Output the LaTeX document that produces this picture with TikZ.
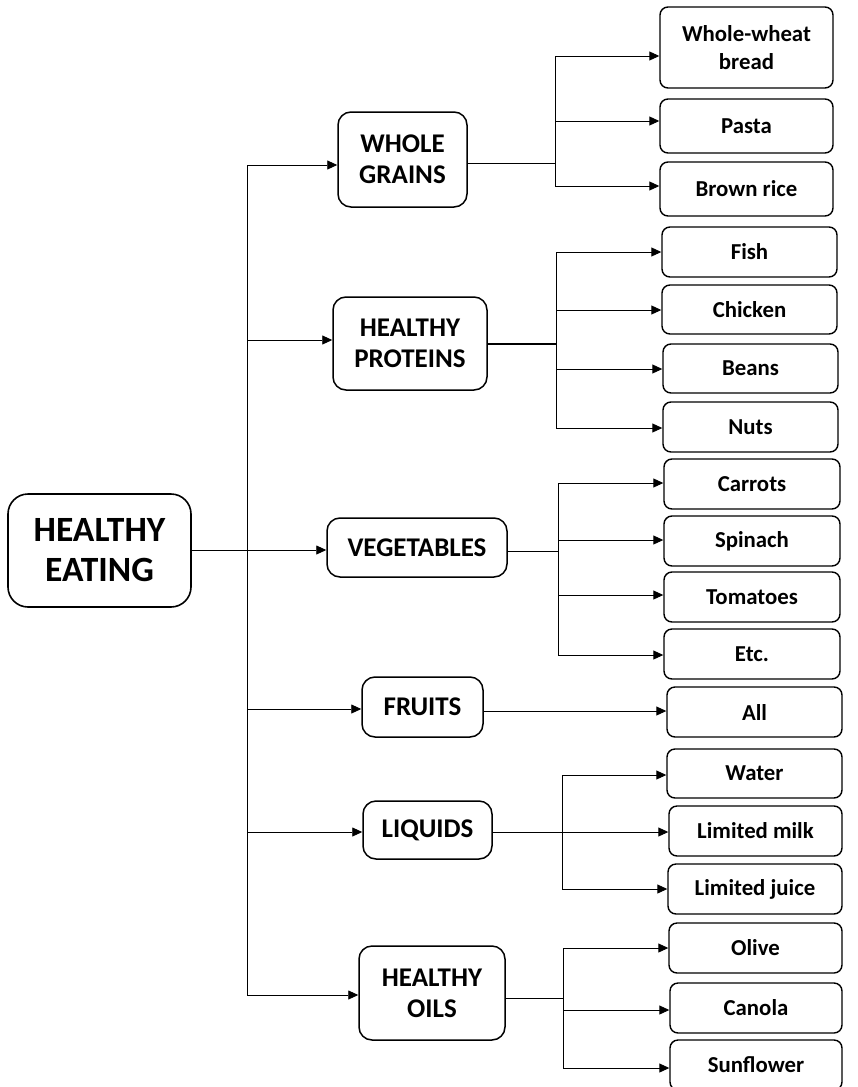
\documentclass[tikz,border=0pt]{standalone}
\usepackage{fontspec}
\setmainfont{Carlito}
\usetikzlibrary{arrows.meta}
\tikzset{
  basebox/.style={draw, rectangle, align=center, inner sep=0pt, font=\bfseries},
  rootbox/.style={basebox, line width=1.6pt, rounded corners=20pt,
    font=\bfseries\fontsize{35.5}{40}\selectfont},
  catbox/.style={basebox, line width=1.5pt, rounded corners=13pt,
    font=\bfseries\fontsize{27}{31}\selectfont},
  itembox/.style={basebox, line width=1.4pt, rounded corners=8pt,
    font=\bfseries\fontsize{22.8}{28}\selectfont},
  link/.style={line width=0.9pt},
  arr/.style={link, -{Triangle[length=10pt,width=9pt]}},
}
\begin{document}
\begin{tikzpicture}[x=1pt,y=-1pt]
\useasboundingbox (0,0) rectangle (858,1087);

% root
\node[rootbox, minimum width=183pt, minimum height=113pt] (root) at (99.5,550.5) {HEALTHY\\EATING};

% categories
\node[catbox, minimum width=129pt, minimum height=95pt] (wg)  at (402.5,159.5) {WHOLE\\GRAINS};
\node[catbox, minimum width=154pt, minimum height=93pt] (hp)  at (410,343.5) {HEALTHY\\PROTEINS};
\node[catbox, minimum width=180pt, minimum height=59pt] (veg) at (417,547.5) {VEGETABLES};
\node[catbox, minimum width=121pt, minimum height=60pt] (fru) at (422.5,707) {FRUITS};
\node[catbox, minimum width=129pt, minimum height=58pt] (liq) at (427.5,830) {LIQUIDS};
\node[catbox, minimum width=146pt, minimum height=94pt] (oil) at (432,993) {HEALTHY\\OILS};

% items
\node[itembox, minimum width=173pt, minimum height=81pt] (bread) at (746.5,47.5) {Whole-wheat\\bread};
\node[itembox, minimum width=173pt, minimum height=54pt] (pasta) at (746.5,126) {Pasta};
\node[itembox, minimum width=173pt, minimum height=54pt] (rice)  at (746.5,189) {Brown rice};

\node[itembox, minimum width=175pt, minimum height=50pt] (fish)    at (749.5,252) {Fish};
\node[itembox, minimum width=175pt, minimum height=49pt] (chicken) at (749.5,309.5) {Chicken};
\node[itembox, minimum width=175pt, minimum height=49pt] (beans)   at (750.5,368.5) {Beans};
\node[itembox, minimum width=175pt, minimum height=50pt] (nuts)    at (750.5,427) {Nuts};

\node[itembox, minimum width=176pt, minimum height=50pt] (carrots)  at (752,484) {Carrots};
\node[itembox, minimum width=176pt, minimum height=50pt] (spinach)  at (752,541) {Spinach};
\node[itembox, minimum width=176pt, minimum height=50pt] (tomatoes) at (752,597) {Tomatoes};
\node[itembox, minimum width=176pt, minimum height=50pt] (etc)      at (752,654) {Etc.};

\node[itembox, minimum width=175pt, minimum height=50pt] (all) at (754.5,712) {All};

\node[itembox, minimum width=175pt, minimum height=49pt] (water) at (754.5,773.5) {Water};
\node[itembox, minimum width=173pt, minimum height=50pt] (milk)  at (755.5,831) {Limited milk};
\node[itembox, minimum width=174pt, minimum height=50pt] (juice) at (755,889) {Limited juice};

\node[itembox, minimum width=173pt, minimum height=50pt] (olive)  at (755.5,948) {Olive};
\node[itembox, minimum width=172pt, minimum height=50pt] (canola) at (756,1008) {Canola};
\node[itembox, minimum width=172pt, minimum height=50pt] (sunfl)  at (756,1065) {Sunflower};

% trunk from the root to every category
\coordinate (t1) at (247,165);
\coordinate (t2) at (247,340);
\coordinate (t3) at (247,550);
\coordinate (t4) at (247,709);
\coordinate (t5) at (247,832);
\coordinate (t6) at (247,995);
\draw[link] (t1) -- (t6);
\draw[arr] (root.east |- t3) -- (veg.west |- t3);
\draw[arr] (t1) -- (wg.west |- t1);
\draw[arr] (t2) -- (hp.west |- t2);
\draw[arr] (t4) -- (fru.west |- t4);
\draw[arr] (t5) -- (liq.west |- t5);
\draw[arr] (t6) -- (oil.west |- t6);

% whole grains
\coordinate (wa) at (555,56);
\coordinate (wb) at (555,121);
\coordinate (wc) at (555,186);
\coordinate (wm) at (555,163);
\draw[link] (wa) -- (wc);
\draw[link] (wg.east |- wm) -- (wm);
\draw[arr] (wa) -- (bread.west |- wa);
\draw[arr] (wb) -- (pasta.west |- wb);
\draw[arr] (wc) -- (rice.west |- wc);

% healthy proteins
\coordinate (pa) at (556,252);
\coordinate (pb) at (556,310);
\coordinate (pc) at (556,369);
\coordinate (pd) at (556,428);
\coordinate (pm) at (556,344);
\draw[link] (pa) -- (pd);
\draw[line width=1.6pt] (hp.east |- pm) -- (pm);
\draw[arr] (pa) -- (fish.west |- pa);
\draw[arr] (pb) -- (chicken.west |- pb);
\draw[arr] (pc) -- (beans.west |- pc);
\draw[arr] (pd) -- (nuts.west |- pd);

% vegetables
\coordinate (va) at (558,483);
\coordinate (vb) at (558,540);
\coordinate (vc) at (558,595);
\coordinate (vd) at (558,655);
\coordinate (vm) at (558,551);
\draw[link] (va) -- (vd);
\draw[link] (veg.east |- vm) -- (vm);
\draw[arr] (va) -- (carrots.west |- va);
\draw[arr] (vb) -- (spinach.west |- vb);
\draw[arr] (vc) -- (tomatoes.west |- vc);
\draw[arr] (vd) -- (etc.west |- vd);

% fruits
\coordinate (fm) at (0,711);
\draw[arr] (fru.east |- fm) -- (all.west |- fm);

% liquids
\coordinate (la) at (562,775);
\coordinate (lb) at (562,832);
\coordinate (lc) at (562,889);
\draw[link] (la) -- (lc);
\draw[arr] (liq.east |- lb) -- (milk.west |- lb);
\draw[arr] (la) -- (water.west |- la);
\draw[arr] (lc) -- (juice.west |- lc);

% healthy oils
\coordinate (oa) at (563,948);
\coordinate (ob) at (563,1010);
\coordinate (oc) at (563,1068);
\coordinate (om) at (563,998);
\draw[link] (oa) -- (oc);
\draw[link] (oil.east |- om) -- (om);
\draw[arr] (oa) -- (olive.west |- oa);
\draw[arr] (ob) -- (canola.west |- ob);
\draw[arr] (oc) -- (sunfl.west |- oc);
\end{tikzpicture}
\end{document}
